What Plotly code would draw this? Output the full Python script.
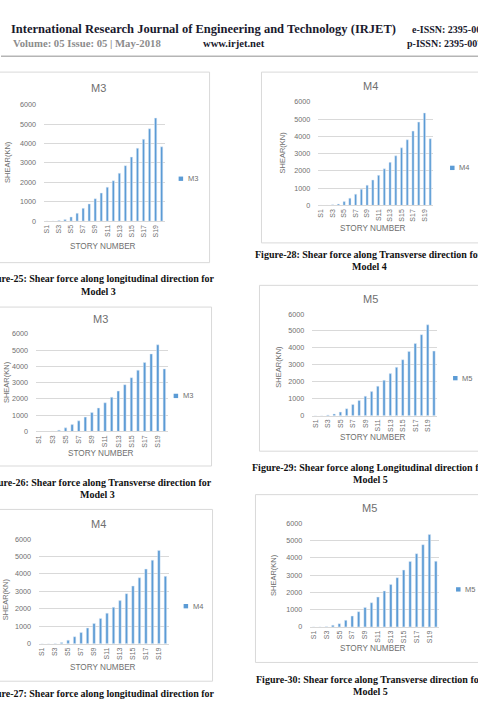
import plotly.graph_objects as go

W, H = 478, 702

# ---------------- data ----------------
stories = [f"S{i}" for i in range(1, 21)]
tick_labels = [f"S{i}" for i in range(1, 21, 2)]
y_ticks = [0, 1000, 2000, 3000, 4000, 5000, 6000]

m3_longitudinal = [0, 0, 30, 85, 220, 410, 660, 890, 1160, 1450, 1750, 2080, 2470, 2860, 3300, 3760, 4220, 4760, 5310, 3830]
m4_transverse = [0, 0, 35, 75, 230, 420, 650, 940, 1170, 1470, 1740, 2120, 2490, 2870, 3330, 3800, 4300, 4820, 5350, 3860]
m3_transverse = [0, 0, 20, 80, 220, 420, 650, 880, 1160, 1440, 1760, 2100, 2480, 2870, 3300, 3760, 4230, 4760, 5320, 3840]
m4_longitudinal = [0, 0, 10, 70, 200, 400, 640, 900, 1160, 1450, 1750, 2090, 2470, 2870, 3310, 3780, 4280, 4790, 5350, 3860]
m5_longitudinal = [0, 0, 40, 100, 210, 410, 660, 900, 1150, 1420, 1740, 2090, 2480, 2850, 3300, 3790, 4260, 4780, 5360, 3810]
m5_transverse = [0, 0, 15, 100, 190, 380, 630, 880, 1130, 1400, 1730, 2080, 2460, 2850, 3290, 3790, 4240, 4760, 5350, 3800]

series_names = ["M3", "M4", "M3", "M4", "M5", "M5"]
series_values = [m3_longitudinal, m4_transverse, m3_transverse, m4_longitudinal, m5_longitudinal, m5_transverse]

captions = [
    ("Figure-25: Shear force along longitudinal direction for", "Model 3"),
    ("Figure-28: Shear force along Transverse direction for", "Model 4"),
    ("Figure-26: Shear force along Transverse direction for", "Model 3"),
    ("Figure-27: Shear force along longitudinal direction for", ""),
    ("Figure-29: Shear force along Longitudinal direction for", "Model 5"),
    ("Figure-30: Shear force along Transverse direction for", "Model 5"),
]

# ---------------- layout (pixel geometry) ----------------
panels = [
    dict(px=(43, 164, 102, 220), box=(-3, 69, 209, 262), title=(98, 85), yt=(7, 160), xt=(102, 246), leg=(185, 177), cap=(98, 278, 291)),
    dict(px=(318, 433, 99, 204), box=(261, 69, 481, 242), title=(370, 83), yt=(282, 150), xt=(373, 227), leg=(457, 166), cap=(369, 254, 266)),
    dict(px=(35, 167, 334, 433), box=(-3, 307, 211, 468), title=(100, 319), yt=(5, 383), xt=(100, 455), leg=(180, 397), cap=(97, 485, 497)),
    dict(px=(38, 168, 542, 648), box=(-3, 512, 212, 686), title=(98, 527), yt=(4, 603), xt=(102, 672), leg=(190, 610), cap=(98, 698, 712)),
    dict(px=(312, 437, 314, 417), box=(259, 285, 481, 453), title=(370, 299), yt=(278, 367), xt=(373, 439), leg=(460, 379), cap=(370, 470, 482)),
    dict(px=(310, 439, 526, 631), box=(255, 497, 481, 667), title=(369, 511), yt=(273, 578), xt=(373, 653), leg=(463, 593), cap=(370, 684, 696)),
]

BAR = "#5B9BD5"
GRID = "#D9D9D9"
TXT = "#6f6f6f"
FONT = "Liberation Sans"
SERIF = "Liberation Serif"


def fx(px):
    return px / W


def fy(py):
    return 1 - py / H


fig = go.Figure()
annotations = []
shapes = []
layout = {}

for i, (p, name, vals, cap) in enumerate(zip(panels, series_names, series_values, captions), start=1):
    sfx = "" if i == 1 else str(i)
    fig.add_trace(go.Bar(
        x=stories, y=vals, name=name, marker_color=BAR, width=0.38,
        xaxis=f"x{sfx}", yaxis=f"y{sfx}", showlegend=False,
    ))
    x0, x1, yt, yb = p["px"]
    layout[f"xaxis{sfx}"] = dict(
        domain=[fx(x0), fx(x1)], anchor=f"y{sfx}", type="category",
        categoryorder="array", categoryarray=stories,
        tickmode="array", tickvals=tick_labels, ticktext=tick_labels,
        tickangle=-90, tickfont=dict(family=FONT, size=7, color=TXT),
        showgrid=False, showline=True, linecolor=GRID, linewidth=1, ticks="",
        range=[-0.5, 19.5], fixedrange=True,
    )
    layout[f"yaxis{sfx}"] = dict(
        domain=[fy(yb), fy(yt)], anchor=f"x{sfx}", range=[0, 6000],
        tickmode="array", tickvals=y_ticks,
        tickfont=dict(family=FONT, size=7.2, color=TXT),
        showgrid=True, gridcolor=GRID, gridwidth=1, zeroline=False,
        showline=False, ticks="", ticklabelstandoff=7, fixedrange=True,
    )
    # legend key (small square + series name)
    lx, ly = p["leg"]
    shapes.append(dict(type="rect", xref="paper", yref="paper",
                       x0=fx(lx - 7), x1=fx(lx - 2.5), y0=fy(ly + 2.2), y1=fy(ly - 2.2),
                       line=dict(width=0), fillcolor=BAR))
    annotations.append(dict(text=name, x=fx(lx), y=fy(ly), xref="paper", yref="paper",
                            showarrow=False, xanchor="left", yanchor="middle",
                            font=dict(family=FONT, size=7.5, color=TXT)))
    bx0, by0, bx1, by1 = p["box"]
    shapes.append(dict(type="rect", xref="paper", yref="paper",
                       x0=fx(bx0), x1=fx(bx1), y0=fy(by1), y1=fy(by0),
                       line=dict(color=GRID, width=1), fillcolor="rgba(0,0,0,0)", layer="below"))
    tx, ty = p["title"]
    annotations.append(dict(text=name, x=fx(tx), y=fy(ty), xref="paper", yref="paper",
                            showarrow=False, xanchor="center", yanchor="middle",
                            font=dict(family=FONT, size=11, color=TXT)))
    ax, ay = p["yt"]
    annotations.append(dict(text="SHEAR(KN)", x=fx(ax), y=fy(ay), xref="paper", yref="paper",
                            showarrow=False, xanchor="center", yanchor="middle", textangle=-90,
                            font=dict(family=FONT, size=7.5, color=TXT)))
    bx, byy = p["xt"]
    annotations.append(dict(text="STORY NUMBER", x=fx(bx), y=fy(byy), xref="paper", yref="paper",
                            showarrow=False, xanchor="center", yanchor="middle",
                            font=dict(family=FONT, size=8.2, color=TXT)))
    cx, cy1, cy2 = p["cap"]
    annotations.append(dict(text=f"<b>{cap[0]}</b>", x=fx(cx), y=fy(cy1), xref="paper", yref="paper",
                            showarrow=False, xanchor="center", yanchor="middle",
                            font=dict(family=SERIF, size=10, color="#111111")))
    if cap[1]:
        annotations.append(dict(text=f"<b>{cap[1]}</b>", x=fx(cx), y=fy(cy2), xref="paper", yref="paper",
                                showarrow=False, xanchor="center", yanchor="middle",
                                font=dict(family=SERIF, size=10, color="#111111")))

# header
header = [
    ("<b>International Research Journal of Engineering and Technology (IRJET)</b>", 8, 25, 12.5, "#1a1a2e"),
    ("<b>e-ISSN: 2395-0056</b>", 410, 26, 10, "#1a1a2e"),
    ("<b>Volume: 05 Issue: 05 | May-2018</b>", 10, 40, 10.7, "#8c8c8c"),
    ("<b>www.irjet.net</b>", 200, 40, 10.6, "#1a1a2e"),
    ("<b>p-ISSN: 2395-0072</b>", 405, 40, 10, "#1a1a2e"),
]
for t, hx, hy, sz, col in header:
    annotations.append(dict(text=t, x=fx(hx), y=fy(hy), xref="paper", yref="paper",
                            showarrow=False, xanchor="left", yanchor="middle",
                            font=dict(family=SERIF, size=sz, color=col)))
shapes.append(dict(type="line", xref="paper", yref="paper", x0=0, x1=1, y0=fy(53), y1=fy(53),
                   line=dict(color="#b5b5b5", width=1.5)))

fig.update_layout(
    width=W, height=H, margin=dict(l=0, r=0, t=0, b=0),
    paper_bgcolor="white", plot_bgcolor="white",
    annotations=annotations, shapes=shapes, bargap=0.6,
    **layout,
)

fig.write_html("out.html", config={"displayModeBar": False})
